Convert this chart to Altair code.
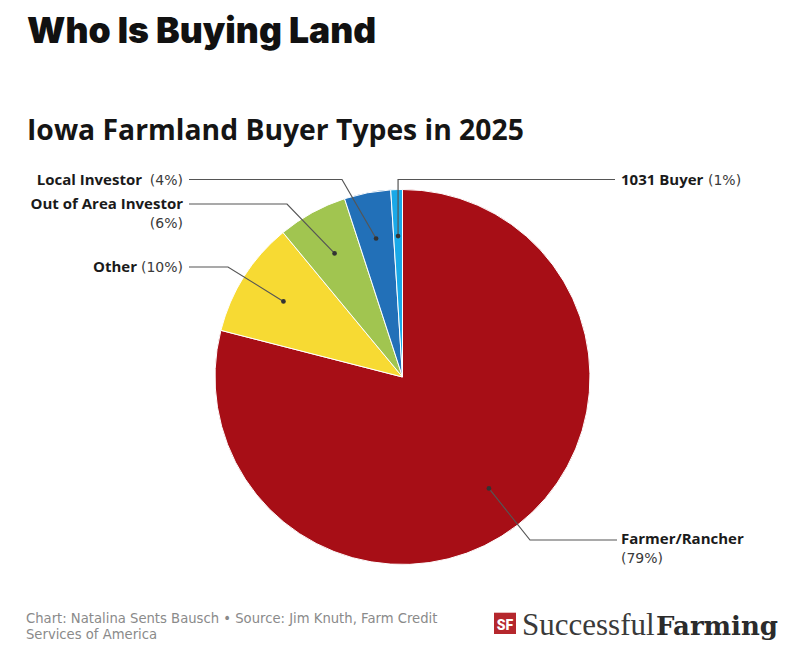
import altair as alt
import numpy as np
import pandas as pd

# ---------------- data ----------------
categories = ["Farmer/Rancher", "Other", "Out of Area Investor", "Local Investor", "1031 Buyer"]
shares = [79, 10, 6, 4, 1]
pct_labels = ["(79%)", "(10%)", "(6%)", "(4%)", "(1%)"]
slice_colors = ["#A70E16", "#F7DA33", "#A1C550", "#2270B8", "#1AA9E8"]

title_text = "Who Is Buying Land"
subtitle_text = "Iowa Farmland Buyer Types in 2025"
footer_lines = ["Chart: Natalina Sents Bausch \u2022 Source: Jim Knuth, Farm Credit", "Services of America"]

# ---------------- layout ----------------
W, H = 786, 653
OFF = 8  # page margin
CX, CY = 402.5 - OFF, 377 - OFF
R = 187.5
R_DOT = 141

# leader elbows / ends (page coords), None = vertical above dot
elbows = {
    "Farmer/Rancher": ((530, 540), (617, 540)),
    "Other": ((228, 267), (189, 267)),
    "Out of Area Investor": ((287, 204), (189, 204)),
    "Local Investor": ((342, 179.5), (189, 179.5)),
    "1031 Buyer": ((None, 179.5), (615, 179.5)),
}
# label anchors (page coords): name pos, pct pos, side
label_pos = {
    "Farmer/Rancher": ((621, 544), (621, 563.3), "left"),
    "Other": ((137, 271.7), (183, 271.7), "right"),
    "Out of Area Investor": ((183, 209.3), (183, 227.7), "right"),
    "Local Investor": ((142, 185.3), (183, 185.3), "right"),
    "1031 Buyer": ((621, 185.3), (708, 185.3), "left"),
}

shares_arr = np.array(shares, dtype=float)
cum = np.cumsum(shares_arr)
mid = (cum - shares_arr / 2) / shares_arr.sum() * 2 * np.pi
dot_x = CX + R_DOT * np.sin(mid)
dot_y = CY - R_DOT * np.cos(mid)

pie_df = pd.DataFrame({"cat": categories, "share": shares, "ord": list(range(len(categories)))})

pts = []
for i, c in enumerate(categories):
    (ex, ey), (nx, ny) = elbows[c]
    if ex is None:
        ex = dot_x[i] + OFF
    pts.append({"cat": c, "seq": 0, "x": dot_x[i], "y": dot_y[i]})
    pts.append({"cat": c, "seq": 1, "x": ex - OFF, "y": ey - OFF})
    pts.append({"cat": c, "seq": 2, "x": nx - OFF, "y": ny - OFF})
line_df = pd.DataFrame(pts)
dot_df = pd.DataFrame({"cat": categories, "x": dot_x, "y": dot_y})

xs = alt.Scale(domain=[0, W], range=[0, W])
ys = alt.Scale(domain=[0, H], range=[0, H])

pie = alt.Chart(pie_df).mark_arc(radius=R, stroke="white", strokeWidth=1).encode(
    theta=alt.Theta("share:Q", stack=True),
    order=alt.Order("ord:Q"),
    color=alt.Color("cat:N", scale=alt.Scale(domain=categories, range=slice_colors), legend=None),
    x=alt.value(CX),
    y=alt.value(CY),
)

leaders = alt.Chart(line_df).mark_line(color="#555555", strokeWidth=1.2).encode(
    x=alt.X("x:Q", scale=xs, axis=None),
    y=alt.Y("y:Q", scale=ys, axis=None),
    detail="cat:N",
    order="seq:Q",
)

dots = alt.Chart(dot_df).mark_point(filled=True, color="#333333", size=22, opacity=1).encode(
    x=alt.X("x:Q", scale=xs, axis=None),
    y=alt.Y("y:Q", scale=ys, axis=None),
)


def txt(text, px, py, size, weight="normal", color="#222222", align="left", font="Open Sans", **kw):
    return alt.Chart(pd.DataFrame({"t": [text]})).mark_text(
        align=align, baseline="alphabetic", fontSize=size, fontWeight=weight,
        color=color, font=font, **kw
    ).encode(x=alt.value(px - OFF), y=alt.value(py - OFF), text="t:N")


layers = [pie, leaders, dots]

for i, c in enumerate(categories):
    (bx, by), (rx, ry), side = label_pos[c]
    layers.append(txt(c, bx, by, 15, weight="bold", color="#1a1a1a", align=side))
    layers.append(txt(pct_labels[i], rx, ry, 14, weight="normal", color="#3a3a3a", align=side,
                      font="DejaVu Sans"))

layers.append(txt(title_text, 27, 42.5, 35.5, weight=900, color="#111111", font="Inter"))
layers.append(txt(subtitle_text, 27, 139.5, 28.3, weight="bold", color="#151515", font="Open Sans"))
layers.append(txt(footer_lines[0], 26, 623, 13.2, weight="normal", color="#8a8a8a", font="DejaVu Sans"))
layers.append(txt(footer_lines[1], 26, 638.6, 13.2, weight="normal", color="#8a8a8a", font="DejaVu Sans"))

# logo
logo_box = alt.Chart(pd.DataFrame({"a": [0]})).mark_rect(color="#B5272D").encode(
    x=alt.value(494 - OFF), x2=alt.value(516 - OFF), y=alt.value(612.7 - OFF), y2=alt.value(634 - OFF)
)
layers.append(logo_box)
layers.append(txt("SF", 505, 630, 14, weight=900, color="white", align="center", font="Roboto"))
layers.append(txt("Successful", 522, 634.7, 31, weight="normal", color="#3a3a3a", font="Liberation Serif"))
layers.append(txt("Farming", 656, 634.7, 26, weight="bold", color="#2b2b2b", font="DejaVu Serif"))

chart = alt.layer(*layers).properties(
    width=W, height=H, padding=0, autosize="none"
).configure_view(stroke=None)

chart.save("out.html", embed_options={"renderer": "svg", "actions": False})
